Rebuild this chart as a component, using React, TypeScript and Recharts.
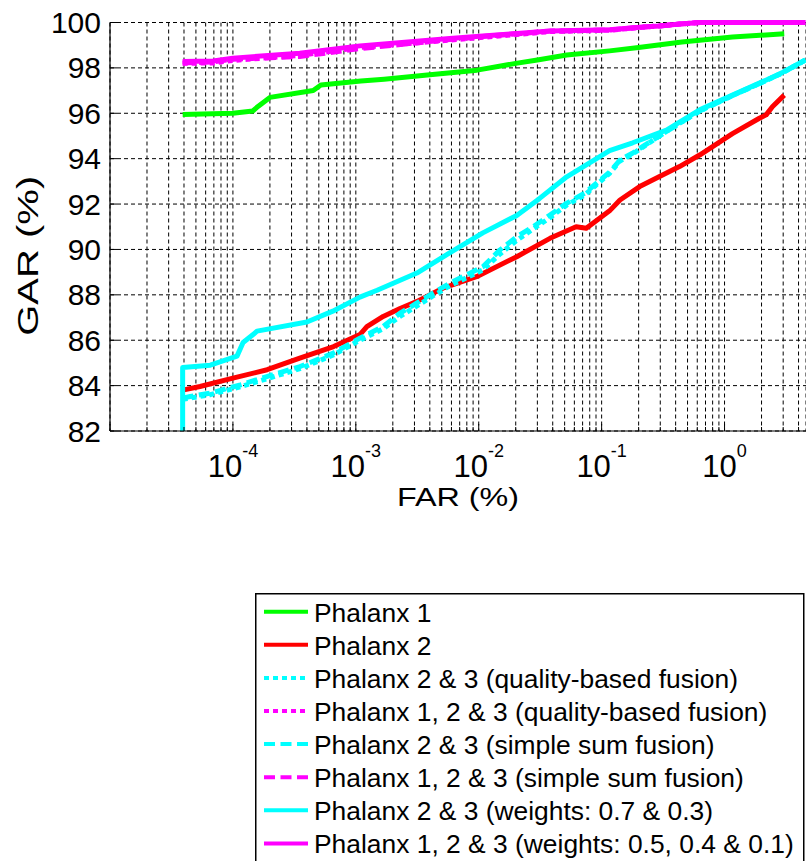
import React from 'react';
import { LineChart, Line, XAxis, YAxis, CartesianGrid, Legend } from 'recharts';

const FONT = '"Liberation Sans", Arial, Helvetica, sans-serif';

// ROC curves: FAR (%) against GAR (%)
const phalanx1Far = [3.9e-5, 1.0e-4, 1.45e-4, 1.6e-4, 2.0e-4, 4.5e-4, 5.2e-4, 1.1e-3, 1.7e-3, 4.0e-3, 9.7e-3, 0.02, 0.03, 0.052, 0.116, 0.2, 0.45, 1.16, 3.06];
const phalanx1Gar = [95.95, 96.0, 96.1, 96.3, 96.7, 97.0, 97.25, 97.42, 97.5, 97.7, 97.9, 98.2, 98.35, 98.57, 98.75, 98.9, 99.14, 99.36, 99.5];

const phalanx2Far = [3.9e-5, 5.4e-5, 1.0e-4, 1.9e-4, 3.5e-4, 6.6e-4, 1.08e-3, 1.23e-3, 1.67e-3, 2.29e-3, 3.12e-3, 5.1e-3, 9.6e-3, 0.0204, 0.038, 0.062, 0.075, 0.116, 0.141, 0.204, 0.296, 0.43, 0.627, 1.16, 1.92, 2.18, 2.45, 3.06];
const phalanx2Gar = [83.8, 83.96, 84.33, 84.7, 85.21, 85.72, 86.25, 86.6, 87.05, 87.4, 87.7, 88.29, 88.8, 89.68, 90.49, 91.0, 90.93, 91.7, 92.18, 92.77, 93.21, 93.65, 94.16, 95.1, 95.78, 95.93, 96.29, 96.8];

const fused23Far = [3.9e-5, 4.5e-5, 6.55e-5, 1.15e-4, 1.89e-4, 3.52e-4, 6.56e-4, 1.08e-3, 1.66e-3, 2.29e-3, 3.12e-3, 4.24e-3, 5.82e-3, 7.96e-3, 0.0108, 0.0149, 0.0204, 0.0277, 0.038, 0.0518, 0.0728, 0.116, 0.141, 0.178, 0.215, 0.337, 0.627, 1.16, 2.19, 2.96, 4.55];
const quality23Gar = [83.4, 83.45, 83.6, 83.95, 84.3, 84.75, 85.35, 86.0, 86.5, 87.05, 87.5, 87.95, 88.4, 88.75, 89.1, 89.8, 90.4, 90.9, 91.4, 91.95, 92.4, 93.35, 93.9, 94.2, 94.5, 95.2, 96.1, 96.78, 97.45, 97.78, 98.35];
const simpleSum23Gar = [83.45, 83.52, 83.67, 84.03, 84.4, 84.84, 85.43, 86.09, 86.6, 87.19, 87.63, 88.07, 88.51, 88.88, 89.24, 89.98, 90.56, 91.0, 91.52, 92.03, 92.48, 93.4, 93.94, 94.24, 94.53, 95.2, 96.1, 96.78, 97.45, 97.78, 98.35];

const weighted23Far = [3.9e-5, 3.9e-5, 6.55e-5, 1.08e-4, 1.21e-4, 1.46e-4, 1.57e-4, 4.0e-4, 6.5e-4, 1.08e-3, 1.49e-3, 3.14e-3, 5.8e-3, 0.0108, 0.0204, 0.0313, 0.052, 0.116, 0.179, 0.337, 0.627, 1.16, 2.19, 2.96, 4.55];
const weighted23Gar = [82.0, 84.8, 84.9, 85.3, 85.9, 86.25, 86.4, 86.8, 87.28, 87.9, 88.2, 88.96, 89.85, 90.73, 91.5, 92.25, 93.2, 94.35, 94.7, 95.26, 96.15, 96.8, 97.47, 97.8, 98.35];

const fused123Far = [3.9e-5, 6.9e-5, 1.0e-4, 3.5e-4, 1.08e-3, 5.8e-3, 0.0108, 0.0204, 0.038, 0.116, 0.204, 0.296, 0.43, 0.63, 4.55];
const quality123Gar = [98.2, 98.22, 98.33, 98.55, 98.9, 99.22, 99.35, 99.47, 99.6, 99.66, 99.78, 99.85, 99.93, 100, 100];
const simpleSum123Gar = [98.22, 98.26, 98.38, 98.5, 98.85, 99.25, 99.38, 99.5, 99.62, 99.67, 99.79, 99.85, 99.93, 100, 100];
const weighted123Gar = [98.28, 98.3, 98.43, 98.65, 98.97, 99.3, 99.4, 99.52, 99.63, 99.68, 99.79, 99.85, 99.93, 100, 100];

// axis ticks
const decadeTicks = [1e-5, 1e-4, 1e-3, 1e-2, 1e-1, 1];
const labelledDecades = [1e-4, 1e-3, 1e-2, 1e-1, 1];
const decadeExponents = ['-4', '-3', '-2', '-1', '0'];
const minorMultipliers = [2, 3, 4, 5, 6, 7, 8, 9];
const farDomain = [1e-5, 4.6];
const garTicks = [82, 84, 86, 88, 90, 92, 94, 96, 98, 100];

const xTicks: number[] = [];
decadeTicks.forEach((d) => {
  xTicks.push(d);
  minorMultipliers.forEach((m) => {
    const v = +(d * m).toPrecision(6);
    if (v <= farDomain[1]) xTicks.push(v);
  });
});

const zip = (far: number[], gar: number[]) => far.map((f, i) => ({ far: f, gar: gar[i] }));

const GREEN = '#00ff00';
const RED = '#ff0000';
const CYAN = '#00ffff';
const MAGENTA = '#ff00ff';
const DOTTED = '5 4';
const DASHED = '11 5.5';
const LINE_W = 5;

const series = [
  { name: 'Phalanx 1', color: GREEN, dash: undefined as string | undefined, data: zip(phalanx1Far, phalanx1Gar) },
  { name: 'Phalanx 2', color: RED, dash: undefined, data: zip(phalanx2Far, phalanx2Gar) },
  { name: 'Phalanx 2 & 3 (quality-based fusion)', color: CYAN, dash: DOTTED, data: zip(fused23Far, quality23Gar) },
  { name: 'Phalanx 1, 2 & 3 (quality-based fusion)', color: MAGENTA, dash: DOTTED, data: zip(fused123Far, quality123Gar) },
  { name: 'Phalanx 2 & 3 (simple sum fusion)', color: CYAN, dash: DASHED, data: zip(fused23Far, simpleSum23Gar) },
  { name: 'Phalanx 1, 2 & 3 (simple sum fusion)', color: MAGENTA, dash: DASHED, data: zip(fused123Far, simpleSum123Gar) },
  { name: 'Phalanx 2 & 3 (weights: 0.7 & 0.3)', color: CYAN, dash: undefined, data: zip(weighted23Far, weighted23Gar) },
  { name: 'Phalanx 1, 2 & 3 (weights: 0.5, 0.4 & 0.1)', color: MAGENTA, dash: undefined, data: zip(fused123Far, weighted123Gar) },
];

const isDecade = (v: number) => Math.abs(Math.log10(v) - Math.round(Math.log10(v))) < 1e-6;

const BottomTick = (props: any) => {
  const { x, y, payload } = props;
  const v = payload.value;
  const idx = labelledDecades.findIndex((d) => Math.abs(Math.log10(d) - Math.log10(v)) < 1e-6);
  const len = isDecade(v) ? 7 : 4;
  return (
    <g>
      <line x1={x} x2={x} y1={y} y2={y - len} stroke="#000" strokeWidth={1} />
      {idx >= 0 && (
        <text x={x} y={y + 46} textAnchor="middle" fontFamily={FONT} fill="#000">
          <tspan fontSize={31}>10</tspan>
          <tspan fontSize={18} dy={-20}>{decadeExponents[idx]}</tspan>
        </text>
      )}
    </g>
  );
};

const TopTick = (props: any) => {
  const { x, y, payload } = props;
  const len = isDecade(payload.value) ? 7 : 4;
  return <line x1={x} x2={x} y1={y} y2={y + len} stroke="#000" strokeWidth={1} />;
};

const LeftTick = (props: any) => {
  const { x, y, payload } = props;
  return (
    <g>
      <line x1={x} x2={x + 7} y1={y} y2={y} stroke="#000" strokeWidth={1} />
      <text x={x - 9} y={y + 10.5} textAnchor="end" fontFamily={FONT} fontSize={30} fill="#000">
        {payload.value}
      </text>
    </g>
  );
};

const FarLabel = (props: any) => {
  const { viewBox } = props;
  const cx = viewBox.x + viewBox.width / 2;
  return (
    <text x={cx} y={viewBox.y + 75} textAnchor="middle" fontFamily={FONT} fontSize={26}
      textLength={122} lengthAdjust="spacingAndGlyphs" fill="#000">
      FAR (%)
    </text>
  );
};

const GarLabel = (props: any) => {
  const { viewBox } = props;
  const cy = viewBox.y + viewBox.height / 2 + 29;
  const bx = viewBox.x + 30;
  return (
    <text x={bx} y={cy} transform={`rotate(-90 ${bx} ${cy})`} textAnchor="middle" fontFamily={FONT}
      fontSize={30} textLength={160} lengthAdjust="spacingAndGlyphs" fill="#000">
      GAR (%)
    </text>
  );
};

const LegendBox = () => {
  const rowGap = 33.1;
  return (
    <svg width={560} height={290} style={{ display: 'block' }}>
      <rect x={0.75} y={0.75} width={548} height={300} fill="#fff" stroke="#000" strokeWidth={1.5} />
      {series.map((s, i) => {
        const ly = 18.7 + rowGap * i;
        return (
          <g key={s.name}>
            <line x1={9} x2={53} y1={ly} y2={ly} stroke={s.color} strokeWidth={4} strokeDasharray={s.dash} />
            <text x={59} y={ly + 10} fontFamily={FONT} fontSize={26.4} fill="#000">{s.name}</text>
          </g>
        );
      })}
    </svg>
  );
};

export default function App() {
  return (
    <div style={{ position: 'absolute', left: 8, top: 8, width: 798, height: 853, overflow: 'hidden' }}>
      <LineChart width={798} height={853} margin={{ top: 14.5, right: 0, left: 0, bottom: 370 }}>
        <CartesianGrid stroke="#000" strokeDasharray="4 3" strokeWidth={1} />
        <XAxis
          dataKey="far"
          type="number"
          scale="log"
          domain={farDomain}
          allowDataOverflow
          ticks={xTicks}
          interval={0}
          height={60}
          tickSize={0}
          tickMargin={0}
          tickLine={false}
          axisLine={{ stroke: '#000', strokeWidth: 1.2 }}
          tick={<BottomTick />}
          label={<FarLabel />}
        />
        <XAxis
          xAxisId="top"
          orientation="top"
          dataKey="far"
          type="number"
          scale="log"
          domain={farDomain}
          allowDataOverflow
          ticks={xTicks}
          interval={0}
          height={0}
          tickSize={0}
          tickMargin={0}
          tickLine={false}
          axisLine={{ stroke: '#000', strokeWidth: 1.2 }}
          tick={<TopTick />}
        />
        <YAxis
          dataKey="gar"
          type="number"
          domain={[82, 100]}
          ticks={garTicks}
          interval={0}
          width={102}
          tickSize={0}
          tickMargin={0}
          tickLine={false}
          axisLine={{ stroke: '#000', strokeWidth: 1.2 }}
          tick={<LeftTick />}
          label={<GarLabel />}
        />
        {series.map((s) => (
          <Line
            key={s.name}
            data={s.data}
            dataKey="gar"
            name={s.name}
            type="linear"
            stroke={s.color}
            strokeWidth={LINE_W}
            strokeDasharray={s.dash}
            strokeLinejoin="round"
            dot={false}
            activeDot={false}
            isAnimationActive={false}
          />
        ))}
        <Legend
          layout="vertical"
          align="center"
          verticalAlign="middle"
          wrapperStyle={{ left: 247, top: 585, width: 560, height: 290 }}
          content={<LegendBox />}
        />
      </LineChart>
    </div>
  );
}
